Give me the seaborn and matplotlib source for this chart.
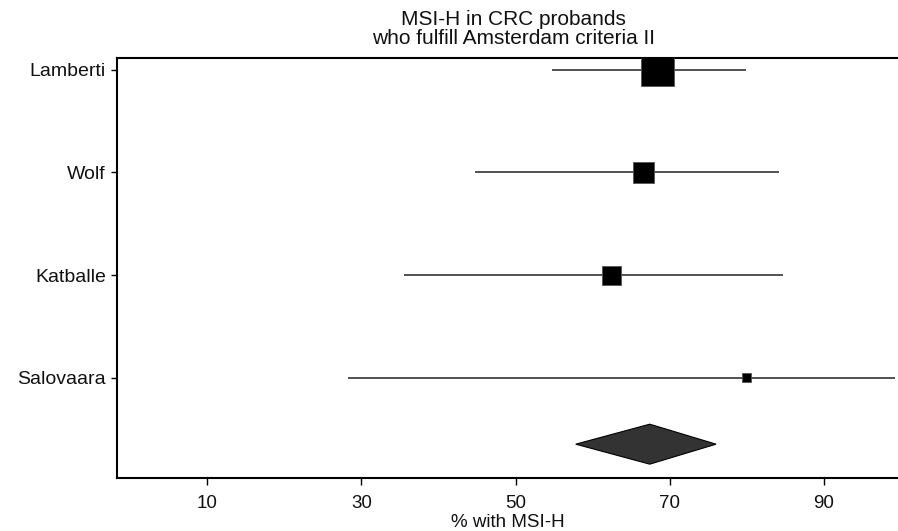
import matplotlib
matplotlib.use("Agg")
import matplotlib.pyplot as plt
import seaborn as sns
import pandas as pd
import numpy as np

studies = ["Lamberti", "Wolf", "Katballe", "Salovaara"]
estimate = [68.4, 66.6, 62.5, 79.9]
ci_low = [54.7, 44.7, 35.5, 28.2]
ci_high = [79.9, 84.2, 84.7, 99.2]
box_side_px = [33, 21.5, 19, 9]  # relative study weights shown as box size
summary_est = 67.4
summary_low = 57.8
summary_high = 76.0
xticks = [10, 30, 50, 70, 90]

sns.set_theme(style="white")
plt.rcParams['font.family'] = ['Liberation Sans', 'DejaVu Sans']

fig = plt.figure(figsize=(8.98, 5.31), dpi=100)
ax = fig.add_axes([0.1303, 0.0998, 0.8697, 0.791])

ypos = [5, 4, 3, 2]
df = pd.DataFrame({"study": studies, "est": estimate, "lo": ci_low, "hi": ci_high,
                   "y": ypos, "side": box_side_px})
df["s"] = (df["side"] * 0.72) ** 2

ax.hlines(df["y"], df["lo"], df["hi"], color="#222222", lw=1.1, zorder=2)
sns.scatterplot(data=df, x="est", y="y", marker="s", s=df["s"], color="black",
                edgecolor="#555555", linewidth=0.6, legend=False, ax=ax, zorder=3)

sy = 1.35
dh = 0.195
ax.fill([summary_low, summary_est, summary_high, summary_est],
        [sy, sy + dh, sy, sy - dh], facecolor="#333333", edgecolor="black", lw=0.8, zorder=3)

ax.set_xlim(-1.7, 99.6)
ax.set_ylim(1.02, 5.117)
ax.set_yticks(ypos)
ax.set_yticklabels(studies, fontsize=14, color="#111111")
ax.set_xticks(xticks)
ax.set_xticklabels([str(t) for t in xticks], fontsize=13.5, color="#111111")
ax.set_xlabel("% with MSI-H", fontsize=13.5, labelpad=2, color="#111111")
ax.set_ylabel("")
ax.set_title("MSI-H in CRC probands\nwho fulfill Amsterdam criteria II", fontsize=15,
             linespacing=1.0, pad=10, x=0.508, color="#111111")

for side in ["left", "bottom", "top"]:
    ax.spines[side].set_visible(True)
    ax.spines[side].set_color("black")
    ax.spines[side].set_linewidth(1.5)
ax.spines["right"].set_visible(False)
ax.tick_params(axis="x", bottom=True, length=5, width=1, color="black", direction="out", pad=7)
ax.tick_params(axis="y", left=True, length=4, width=1, color="black", direction="out", pad=4)
ax.grid(False)

fig.savefig("out.png", dpi=100)
